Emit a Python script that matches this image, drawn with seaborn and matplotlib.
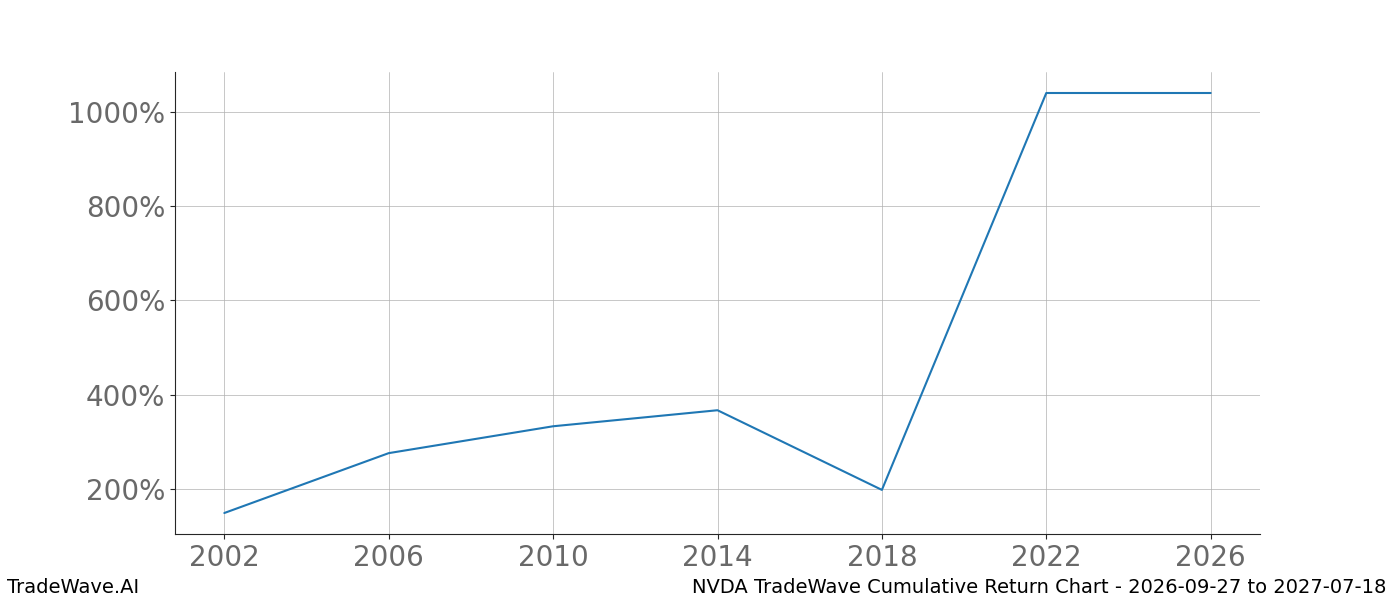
import seaborn as sns
import matplotlib.pyplot as plt
import matplotlib.ticker as mticker
import pandas as pd

years = [2002, 2006, 2010, 2014, 2018, 2022, 2026]
cum_return = [149, 276, 333, 367, 198, 1040, 1040]
x_ticks = [2002, 2006, 2010, 2014, 2018, 2022, 2026]

sns.set_style("ticks")
plt.rcParams['font.family'] = ['DejaVu Sans']

df = pd.DataFrame({"year": years, "ret": cum_return})

fig, ax = plt.subplots(figsize=(14, 6), dpi=100)
sns.lineplot(data=df, x="year", y="ret", ax=ax, color="#1f77b4", linewidth=1.5)

ax.set_xticks(x_ticks)
ax.yaxis.set_major_formatter(mticker.FuncFormatter(lambda v, _: f"{v:.0f}%"))
ax.yaxis.set_major_locator(mticker.MultipleLocator(200))
ax.tick_params(labelsize=20, labelcolor="dimgray")
ax.grid(True, color="#b0b0b0", linewidth=0.5)
ax.set_xlabel("")
ax.set_ylabel("")
sns.despine(ax=ax)

fig.subplots_adjust(left=0.125, right=0.9, top=0.88, bottom=0.11)
fig.text(0.005, 0.005, "TradeWave.AI", fontsize=14, ha="left", va="bottom", color="black")
fig.text(0.99, 0.005, "NVDA TradeWave Cumulative Return Chart - 2026-09-27 to 2027-07-18",
         fontsize=14, ha="right", va="bottom", color="black")

fig.savefig("out.png", dpi=100)
